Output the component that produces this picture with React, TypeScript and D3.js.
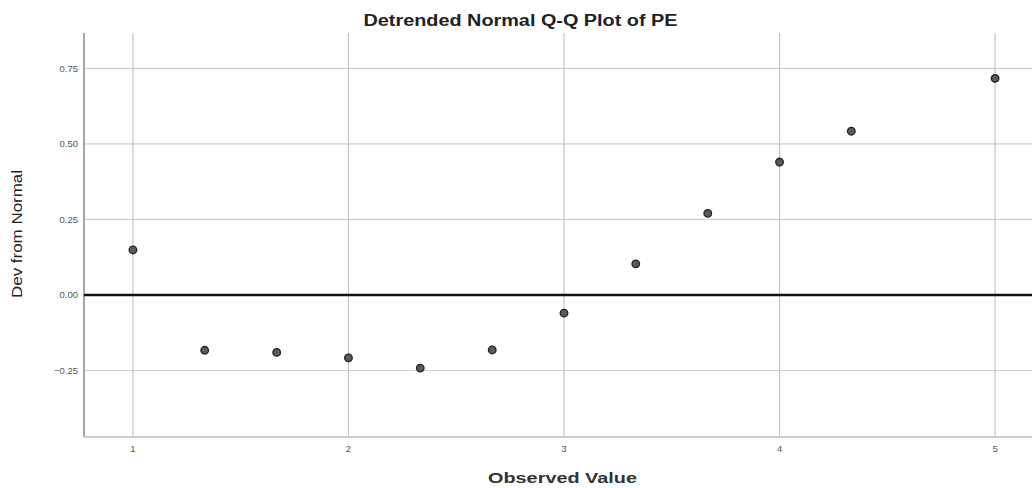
import React from "react";
import * as d3 from "d3";

const observed = [1, 1.333, 1.667, 2, 2.333, 2.667, 3, 3.333, 3.667, 4, 4.333, 5];
const deviation = [0.149, -0.183, -0.19, -0.208, -0.242, -0.182, -0.06, 0.103, 0.27, 0.44, 0.542, 0.717];
const xTicks = [1, 2, 3, 4, 5];
const yTicks = [-0.25, 0, 0.25, 0.5, 0.75];

const W = 1032;
const H = 488;
const left = 84;
const right = 1044;
const top = 33;
const bottom = 437;

export default function App() {
  const x = d3.scaleLinear().domain([0.773, 5.227]).range([left, right]);
  const y = d3.scaleLinear().domain([-0.47, 0.867]).range([bottom, top]);
  const fmt = d3.format(".2f");
  return (
    <svg width={W} height={H} style={{ position: "absolute", left: 0, top: 0, background: "#fff" }}
      fontFamily="'Liberation Sans', Arial, sans-serif">
      <rect x={0} y={0} width={W} height={H} fill="#fff" />
      {yTicks.filter((t) => t !== 0).map((t) => (
        <line key={"gy" + t} x1={left} x2={W} y1={y(t)} y2={y(t)} stroke="#cfcfcf" strokeWidth={1.2} />
      ))}
      {xTicks.map((t) => (
        <line key={"gx" + t} x1={x(t)} x2={x(t)} y1={top} y2={bottom} stroke="#c4c4c4" strokeWidth={1.2} />
      ))}
      <line x1={left} x2={left} y1={top} y2={bottom} stroke="#8a8a8a" strokeWidth={1.5} />
      <line x1={left} x2={W} y1={bottom} y2={bottom} stroke="#bdbdbd" strokeWidth={1.5} />
      <line x1={left} x2={W} y1={y(0)} y2={y(0)} stroke="#111" strokeWidth={2.6} />
      {yTicks.map((t) => (
        <text key={"ty" + t} x={left - 6} y={y(t)} dy="0.35em" textAnchor="end" fontSize={9.5} fill="#555">
          {fmt(t)}
        </text>
      ))}
      {xTicks.map((t) => (
        <text key={"tx" + t} x={x(t)} y={bottom + 15} textAnchor="middle" fontSize={9.5} fill="#555">
          {t}
        </text>
      ))}
      {observed.map((v, i) => (
        <circle key={"p" + i} cx={x(v)} cy={y(deviation[i])} r={3.8} fill="#5a5a5a" stroke="#222" strokeWidth={1.3} />
      ))}
      <text x={520.5} y={26} textAnchor="middle" fontSize={16} fontWeight="bold" fill="#222"
        textLength={314} lengthAdjust="spacingAndGlyphs">
        Detrended Normal Q-Q Plot of PE
      </text>
      <text x={562.5} y={483} textAnchor="middle" fontSize={15} fontWeight="bold" fill="#333"
        textLength={149} lengthAdjust="spacingAndGlyphs">
        Observed Value
      </text>
      <text transform={`translate(22,${234}) rotate(-90)`} textAnchor="middle" fontSize={15} fill="#222"
        textLength={128} lengthAdjust="spacingAndGlyphs">
        Dev from Normal
      </text>
    </svg>
  );
}
